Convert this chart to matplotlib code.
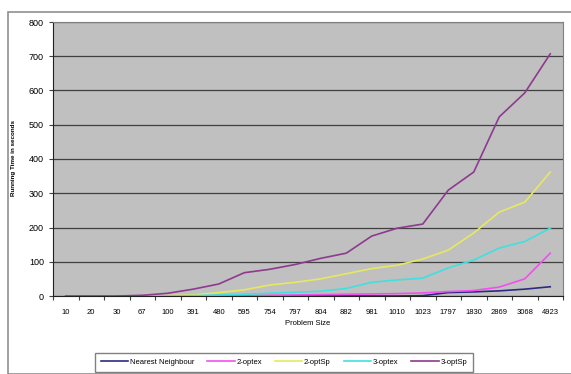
"""Running time vs problem size, Excel-style line chart"""

import matplotlib
matplotlib.use("Agg")
import matplotlib.pyplot as plt
from matplotlib.patches import Rectangle
import numpy as np

plt.rcParams['font.family'] = ['Liberation Sans Narrow', 'Liberation Sans', 'DejaVu Sans']

# Data
sizes = ['10', '20', '30', '67', '100', '391', '480', '595', '754', '797',
         '804', '882', '981', '1010', '1023', '1797', '1830', '2869', '3068', '4923']
nearest = [0, 0, 0, 0, 0, 0, 0, 0, 0, 0, 0, 0, 0, 0, 1, 10, 12, 15, 20, 27]
opt2ex = [0, 0, 0, 0, 0, 0, 1, 1, 2, 3, 4, 5, 6, 7, 9, 13, 16, 26, 50, 125]
opt2sp = [0, 0, 0, 0, 1, 3, 10, 18, 32, 40, 50, 65, 80, 90, 108, 134, 184, 245, 274, 362]
opt3ex = [0, 0, 0, 0, 0, 1, 3, 5, 8, 11, 14, 22, 40, 47, 52, 82, 105, 140, 159, 198]
opt3sp = [0, 0, 0, 2, 8, 20, 35, 68, 78, 92, 110, 125, 175, 198, 210, 309, 362, 523, 593, 707]

series = [
    ('Nearest Neighbour', nearest, '#2b2b80'),
    ('2-optex', opt2ex, '#f050f0'),
    ('2-optSp', opt2sp, '#e8e860'),
    ('3-optex', opt3ex, '#40e0e0'),
    ('3-optSp', opt3sp, '#8e3a8e'),
]

fig = plt.figure(figsize=(5.71, 3.74), dpi=100)
ax = fig.add_axes([53 / 571, 1 - 296 / 374, 510 / 571, 274 / 374])
ax.set_facecolor('#c0c0c0')

# Outer chart frame
fig.patches.append(Rectangle((8 / 571, 0), 1, 1 - 12 / 374, transform=fig.transFigure,
                             fill=False, edgecolor='#909090', linewidth=1.2))

x = np.arange(len(sizes))
for name, vals, col in series:
    ax.plot(x, vals, color=col, linewidth=1.2, label=name)

ax.set_xlim(-0.5, len(sizes) - 0.5)
ax.set_ylim(0, 800)
ax.set_yticks(range(0, 801, 100))
ax.yaxis.grid(True, color='#404040', linewidth=0.9)
ax.set_axisbelow(True)

# category ticks between bars, labels in the middle
ax.set_xticks(np.arange(-0.5, len(sizes)), labels=[''] * (len(sizes) + 1))
ax.set_xticks(x, labels=sizes, minor=True)
ax.tick_params(axis='x', which='major', length=3, direction='out', color='#404040')
ax.tick_params(axis='x', which='minor', length=0, pad=9, labelsize=5.5)
ax.tick_params(axis='y', length=3, labelsize=6.5, color='#404040')

for side in ['top', 'right']:
    ax.spines[side].set_color('#808080')
for side in ['left', 'bottom']:
    ax.spines[side].set_color('#202020')

ax.set_xlabel('Problem Size', fontsize=5.5, labelpad=3)
fig.text(14 / 571, 1 - 158 / 374, 'Running Time in seconds', fontsize=4.5, fontweight='bold',
         rotation=90, ha='center', va='center')

leg = fig.legend(loc='upper center', bbox_to_anchor=(284 / 571, 1 - 349 / 374), ncol=5,
                 fontsize=5.5, frameon=True, fancybox=False, edgecolor='#606060',
                 handlelength=3.6, handletextpad=0.2, columnspacing=1.7, borderpad=0.75)
leg.get_frame().set_linewidth(1.0)

fig.savefig('out.png', dpi=100, facecolor='white')
